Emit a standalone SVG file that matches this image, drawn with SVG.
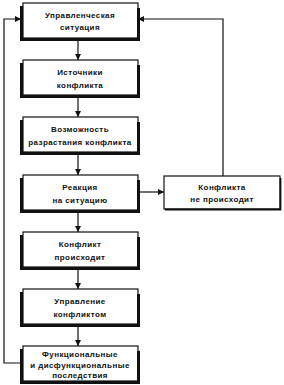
<svg xmlns="http://www.w3.org/2000/svg" width="284" height="385" viewBox="0 0 284 385">
<style>
.box{fill:#fff;stroke:#111;stroke-width:1.2}
.sh{fill:none;stroke:#111;stroke-width:3}
.sh2{fill:none;stroke:#111;stroke-width:1.8}
.t{font-family:"Liberation Sans",Arial,sans-serif;font-size:8px;font-weight:bold;fill:#111;text-anchor:middle;letter-spacing:0.4px}
.c{fill:none;stroke:#111;stroke-width:1.2}
</style>
<defs>
<marker id="ah" viewBox="0 0 10 10" refX="10" refY="5" markerWidth="6" markerHeight="6" markerUnits="userSpaceOnUse" orient="auto">
<path d="M0,0 L10,5 L0,10 z" fill="#111"/>
</marker>
<marker id="ahw" viewBox="0 0 10 10" refX="10" refY="5" markerWidth="9" markerHeight="6" markerUnits="userSpaceOnUse" orient="auto">
<path d="M0,0 L10,5 L0,10 z" fill="#111"/>
</marker>
</defs>
<rect width="284" height="385" fill="#fff"/>
<g id="connectors">
<line class="c" x1="78" y1="39" x2="78" y2="60" marker-end="url(#ah)"/>
<line class="c" x1="78" y1="96" x2="78" y2="117" marker-end="url(#ah)"/>
<line class="c" x1="78" y1="153" x2="78" y2="175" marker-end="url(#ah)"/>
<line class="c" x1="78" y1="211" x2="78" y2="232" marker-end="url(#ah)"/>
<line class="c" x1="78" y1="268" x2="78" y2="289" marker-end="url(#ah)"/>
<line class="c" x1="78" y1="325" x2="78" y2="346" marker-end="url(#ah)"/>
<line class="c" x1="139" y1="192" x2="164" y2="192" marker-end="url(#ahw)"/>
<polyline class="c" points="21,363 4,363 4,19 21,19" marker-end="url(#ah)"/>
<polyline class="c" points="223,176 223,19 138,19" marker-end="url(#ah)"/>
</g>
<g id="n1">
<rect class="box" x="23" y="3" width="115" height="35"/>
<path class="sh" d="M21.5,6 V39.5 H138.5 V8"/>
<text class="t" x="80" y="18">Управленческая</text>
<text class="t" x="80" y="30">ситуация</text>
</g>
<g id="n2">
<rect class="box" x="23" y="60" width="115" height="35"/>
<path class="sh" d="M21.5,63 V96.5 H138.5 V65"/>
<text class="t" x="80" y="75">Источники</text>
<text class="t" x="80" y="87.5">конфликта</text>
</g>
<g id="n3">
<rect class="box" x="23" y="117" width="115" height="35"/>
<path class="sh" d="M21.5,120 V153.5 H138.5 V122"/>
<text class="t" x="80" y="132">Возможность</text>
<text class="t" x="80" y="144.5">разрастания конфликта</text>
</g>
<g id="n4">
<rect class="box" x="23" y="175" width="115" height="35"/>
<path class="sh" d="M21.5,178 V211.5 H138.5 V180"/>
<text class="t" x="80" y="190">Реакция</text>
<text class="t" x="80" y="203">на ситуацию</text>
</g>
<g id="n5">
<rect class="box" x="23" y="232" width="115" height="35"/>
<path class="sh" d="M21.5,235 V268.5 H138.5 V237"/>
<text class="t" x="80" y="247">Конфликт</text>
<text class="t" x="80" y="259.5">происходит</text>
</g>
<g id="n6">
<rect class="box" x="23" y="289" width="115" height="35"/>
<path class="sh" d="M21.5,292 V325.5 H138.5 V294"/>
<text class="t" x="80" y="304">Управление</text>
<text class="t" x="80" y="316.5">конфликтом</text>
</g>
<g id="n7">
<rect class="box" x="23" y="346" width="115" height="35"/>
<path class="sh" d="M21.5,349 V382.5 H138.5 V351"/>
<text class="t" x="80" y="357">Функциональные</text>
<text class="t" x="80" y="367.5">и дисфункциональные</text>
<text class="t" x="80" y="378">последствия</text>
</g>
<g id="n8">
<rect class="box" x="164" y="176" width="116" height="33"/>
<path class="sh2" d="M165,209.5 H280.5 V178"/>
<text class="t" x="222" y="190">Конфликта</text>
<text class="t" x="222" y="202">не происходит</text>
</g>
</svg>
